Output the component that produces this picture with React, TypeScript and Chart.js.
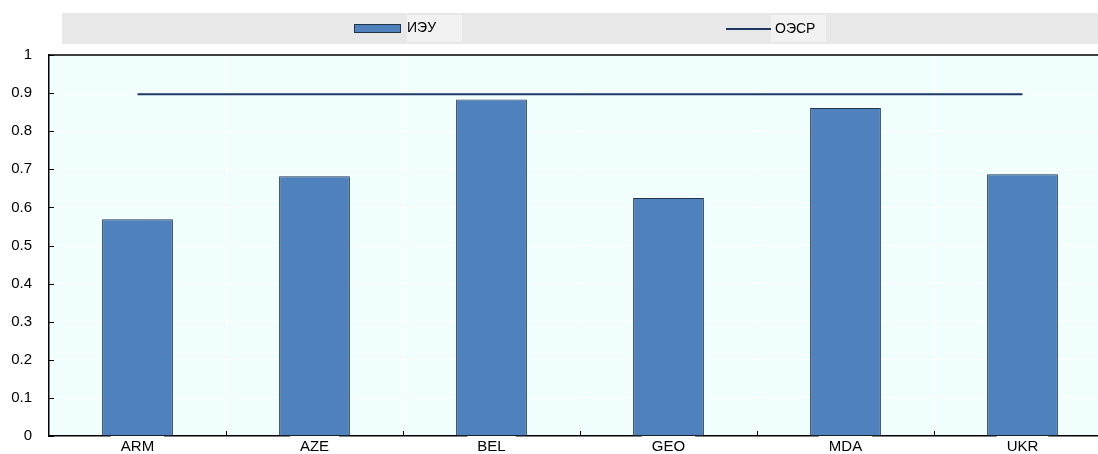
import React, { useEffect, useRef } from "react";
import { Chart, registerables } from "chart.js";

Chart.register(...registerables);

const categories = ["ARM", "AZE", "BEL", "GEO", "MDA", "UKR"];
const ieuValues = [0.569, 0.682, 0.883, 0.625, 0.861, 0.687];
const oecdValues = [0.897, 0.897, 0.897, 0.897, 0.897, 0.897];
const seriesNames = ["ИЭУ", "ОЭСР"];
const yTickLabels = ["0", "0.1", "0.2", "0.3", "0.4", "0.5", "0.6", "0.7", "0.8", "0.9", "1"];

const BAR_COLOR = "#4F81BD";
const BAR_BORDER = "#243447";
const LINE_COLOR = "#1F3864";
const PLOT_BG = "#F2FFFF";
const FONT = "'Liberation Sans', Arial, sans-serif";

const decorPlugin = {
  id: "decor",
  beforeDraw(chart: any) {
    const { ctx, chartArea } = chart;
    ctx.save();
    ctx.fillStyle = PLOT_BG;
    ctx.fillRect(chartArea.left, chartArea.top, chartArea.right - chartArea.left, chartArea.bottom - chartArea.top);
    // vertical white grid lines at category boundaries
    ctx.strokeStyle = "#FFFFFF";
    ctx.lineWidth = 1;
    const step = (chartArea.right - chartArea.left) / categories.length;
    for (let i = 1; i < categories.length; i++) {
      const px = Math.round(chartArea.left + i * step) + 0.5;
      ctx.beginPath();
      ctx.moveTo(px, chartArea.top);
      ctx.lineTo(px, chartArea.bottom);
      ctx.stroke();
    }
    // legend band
    ctx.fillStyle = "#E8E8E8";
    ctx.fillRect(62, 13, 1120 - 62, 31);
    ctx.fillStyle = "#F2F2F2";
    ctx.fillRect(407, 15, 55, 27);
    ctx.fillRect(771, 15, 55, 27);
    // bar legend symbol
    ctx.fillStyle = BAR_COLOR;
    ctx.fillRect(354, 24, 47, 9);
    ctx.strokeStyle = BAR_BORDER;
    ctx.lineWidth = 1;
    ctx.strokeRect(354.5, 24.5, 46, 8);
    // line legend symbol
    ctx.strokeStyle = LINE_COLOR;
    ctx.lineWidth = 2;
    ctx.beginPath();
    ctx.moveTo(726, 29);
    ctx.lineTo(771, 29);
    ctx.stroke();
    // legend text
    ctx.fillStyle = "#000";
    ctx.font = "14px " + FONT;
    ctx.textBaseline = "middle";
    ctx.textAlign = "left";
    ctx.fillText(seriesNames[0], 407, 28);
    ctx.fillText(seriesNames[1], 775, 29);
    ctx.restore();
  },
  afterDraw(chart: any) {
    const { ctx, chartArea, scales } = chart;
    ctx.save();
    ctx.strokeStyle = "#000";
    ctx.lineWidth = 1.5;
    ctx.beginPath();
    ctx.moveTo(chartArea.left, chartArea.top);
    ctx.lineTo(chartArea.right, chartArea.top);
    ctx.stroke();
    ctx.lineWidth = 1;
    const y = scales.y;
    y.ticks.forEach((t: any) => {
      const py = Math.round(y.getPixelForValue(t.value)) + 0.5;
      ctx.beginPath();
      ctx.moveTo(chartArea.left, py);
      ctx.lineTo(chartArea.left + 5, py);
      ctx.stroke();
    });
    const step = (chartArea.right - chartArea.left) / categories.length;
    for (let i = 1; i < categories.length; i++) {
      const px = Math.round(chartArea.left + i * step) + 0.5;
      ctx.beginPath();
      ctx.moveTo(px, chartArea.bottom);
      ctx.lineTo(px, chartArea.bottom - 5);
      ctx.stroke();
    }
    ctx.restore();
  },
};

export default function App() {
  const ref = useRef<HTMLCanvasElement>(null);

  useEffect(() => {
    if (!ref.current) return;
    Chart.defaults.font.family = FONT;
    Chart.defaults.color = "#000";
    const chart = new Chart(ref.current, {
      type: "bar",
      data: {
        labels: categories,
        datasets: [
          {
            type: "line",
            label: seriesNames[1],
            data: oecdValues,
            borderColor: LINE_COLOR,
            borderWidth: 2,
            pointRadius: 0,
            fill: false,
          } as any,
          {
            type: "bar",
            label: seriesNames[0],
            data: ieuValues,
            backgroundColor: BAR_COLOR,
            borderColor: BAR_BORDER,
            borderWidth: 1,
            barPercentage: 0.4,
            categoryPercentage: 1,
          },
        ],
      },
      options: {
        animation: false,
        responsive: false,
        devicePixelRatio: 1,
        layout: { padding: { top: 55, right: 9, left: 0, bottom: 0 } },
        plugins: {
          legend: { display: false },
          tooltip: { enabled: false },
        },
        scales: {
          x: {
            z: 1,
            offset: true,
            grid: { display: false, offset: true, drawTicks: false },
            border: { display: true, color: "#000", width: 1.5 },
            ticks: {
              font: { size: 15 },
              color: "#000",
              padding: 2,
              showLabelBackdrop: true,
              backdropColor: "#FFFFFF",
              backdropPadding: { left: 10, right: 10, top: 4, bottom: 0 },
            } as any,
            afterFit(scale: any) {
              scale.height = 18;
            },
          },
          y: {
            min: 0,
            max: 1,
            ticks: {
              stepSize: 0.1,
              font: { size: 15 },
              color: "#000",
              padding: 0,
              callback: (_v: any, i: number) => yTickLabels[i],
            },
            grid: { color: "#FFFFFF", drawTicks: true, tickLength: 17, tickColor: "rgba(0,0,0,0)", lineWidth: 1 },
            border: { display: true, color: "#000", width: 1.5 },
            afterFit(scale: any) {
              scale.width = 49;
            },
          },
        },
      },
      plugins: [decorPlugin],
    });
    return () => chart.destroy();
  }, []);

  return (
    <div style={{ position: "fixed", left: 0, top: 0, width: 1098, height: 454, overflow: "hidden", background: "#fff" }}>
      <canvas ref={ref} width={1120} height={454} style={{ display: "block", width: 1120, height: 454 }} />
    </div>
  );
}
